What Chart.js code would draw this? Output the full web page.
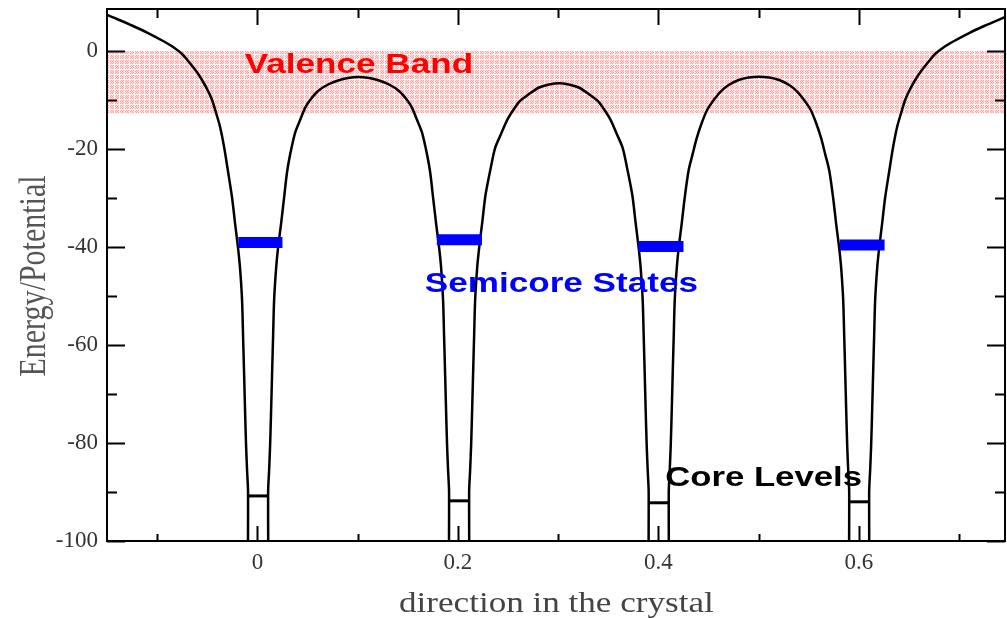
<!DOCTYPE html>
<html>
<head>
<meta charset="utf-8">
<script src="https://cdn.jsdelivr.net/npm/chart.js@4/dist/chart.umd.min.js"></script>
<style>
  html, body { margin: 0; padding: 0; background: #fff; }
  #wrap { width: 1007px; height: 618px; position: relative; }
</style>
</head>
<body>
<div id="wrap"><canvas id="potential"></canvas></div>
<script>
// ---------------- data ----------------

// potential curve (x = direction in the crystal, y = energy), left to right
// (the well bottoms run off the bottom of the plot)
const potX = [
  // outer slope and well at 0
  -0.150, -0.1390, -0.1240, -0.1090, -0.0941, -0.0841, -0.0751, -0.0691, -0.0611, -0.0552, -0.0492, -0.0452, -0.0412, -0.0372,
  -0.0332, -0.0292, -0.0252, -0.0222, -0.0193, -0.0173, -0.0153, -0.0143, -0.0133, -0.0123, -0.0113, -0.0103, -0.0093, -0.0090,
  0.0104, 0.0107, 0.0117, 0.0127, 0.0137, 0.0147, 0.0157, 0.0167, 0.0187, 0.0206, 0.0236, 0.0266, 0.0296, 0.0326,
  0.0376, 0.0426, 0.0476, 0.0526, 0.0605, 0.0705, 0.0805, 0.0905, 0.1004,
  // well at 0.2
  0.1114, 0.1214, 0.1314, 0.1413, 0.1493, 0.1543, 0.1593, 0.1643, 0.1693, 0.1723, 0.1753, 0.1783, 0.1813, 0.1833,
  0.1852, 0.1862, 0.1872, 0.1882, 0.1892, 0.1902, 0.1912, 0.1915,
  0.2109, 0.2112, 0.2122, 0.2132, 0.2142, 0.2152, 0.2162, 0.2172, 0.2192, 0.2212, 0.2241, 0.2271, 0.2291, 0.2331,
  0.2371, 0.2431, 0.2491, 0.2561, 0.2620, 0.2710, 0.2810, 0.2910, 0.3010,
  // well at 0.4
  0.3105, 0.3205, 0.3305, 0.3395, 0.3454, 0.3524, 0.3584, 0.3644, 0.3684, 0.3724, 0.3744, 0.3774, 0.3803, 0.3823,
  0.3843, 0.3853, 0.3863, 0.3873, 0.3883, 0.3893, 0.3903, 0.3906,
  0.4100, 0.4103, 0.4113, 0.4123, 0.4133, 0.4143, 0.4153, 0.4163, 0.4183, 0.4202, 0.4232, 0.4262, 0.4302, 0.4342,
  0.4382, 0.4432, 0.4487, 0.4552, 0.4621, 0.4701, 0.4801, 0.4901, 0.5001,
  // well at 0.6 and outer slope
  0.5104, 0.5204, 0.5304, 0.5384, 0.5453, 0.5518, 0.5573, 0.5623, 0.5663, 0.5703, 0.5743, 0.5773, 0.5803, 0.5823,
  0.5843, 0.5853, 0.5863, 0.5873, 0.5883, 0.5893, 0.5903, 0.5905,
  0.6099, 0.6102, 0.6112, 0.6122, 0.6132, 0.6142, 0.6152, 0.6162, 0.6182, 0.6202, 0.6231, 0.6261, 0.6301, 0.6341,
  0.6381, 0.6421, 0.6461, 0.6501, 0.6561, 0.6621, 0.6700, 0.6760, 0.6850, 0.6950, 0.7099, 0.7249, 0.7459
];
const potY = [
  7.35, 6.43, 5.10, 3.67, 2.04, 0.82, -0.61, -2.04, -4.08, -5.92, -8.16, -10.0, -12.65, -15.5,
  -19.6, -24.7, -30.0, -35.3, -40.2, -44.3, -50.8, -58.0, -65.5, -73.3, -80.4, -85.5, -90.2, -200,
  -200, -90.2, -85.5, -80.4, -73.3, -65.5, -58.0, -50.8, -44.3, -40.2, -35.3, -30.0, -24.7, -21.2,
  -16.7, -14.1, -11.6, -10.0, -8.16, -6.84, -6.02, -5.51, -5.31,
  -5.51, -6.02, -6.84, -8.16, -10.0, -11.6, -14.1, -16.7, -21.2, -24.7, -30.0, -35.3, -40.2, -44.3,
  -50.8, -58.0, -65.5, -73.3, -80.4, -85.5, -90.2, -200,
  -200, -90.2, -85.5, -80.4, -73.3, -65.5, -58.0, -50.8, -44.3, -40.2, -35.3, -30.0, -27.6, -23.5,
  -19.8, -16.9, -14.1, -11.8, -10.2, -8.78, -7.45, -6.84, -6.59,
  -6.84, -7.45, -8.78, -10.2, -11.8, -14.1, -16.9, -19.8, -23.5, -27.6, -30.0, -35.3, -40.2, -44.3,
  -50.8, -58.0, -65.5, -73.3, -80.4, -85.5, -90.2, -200,
  -200, -90.2, -85.5, -80.4, -73.3, -65.5, -58.0, -50.8, -44.3, -40.2, -35.3, -30.0, -24.3, -21.0,
  -17.8, -14.7, -12.0, -10.0, -8.27, -6.94, -5.92, -5.41, -5.24,
  -5.41, -5.92, -6.94, -8.27, -10.0, -12.0, -14.7, -17.8, -21.0, -24.3, -30.0, -35.3, -40.2, -44.3,
  -50.8, -58.0, -65.5, -73.3, -80.4, -85.5, -90.2, -200,
  -200, -90.2, -85.5, -80.4, -73.3, -65.5, -58.0, -50.8, -44.3, -40.2, -35.3, -30.0, -24.7, -19.6,
  -15.5, -12.65, -10.0, -8.16, -5.92, -4.08, -2.04, -0.61, 0.82, 2.04, 3.67, 5.10, 6.94
];

// semicore states (blue bars)
const semiLeft   = [-0.019, 0.179, 0.380, 0.581];
const semiRight  = [0.025, 0.224, 0.425, 0.6256];
const semiEnergy = [-39.1, -38.5, -39.9, -39.6];

// core levels (short black bars at the well bottoms)
const coreLeft   = [-0.0093, 0.1912, 0.3903, 0.5903];
const coreRight  = [0.0107, 0.2112, 0.4103, 0.6102];
const coreEnergy = [-90.8, -91.8, -92.2, -92.0];

// valence band
const valenceTop = 0;
const valenceBottom = -12.7;

// axes
const xRange = [-0.150, 0.7457];
const yRange = [-100, 8.57];
const xMajorTicks = [0, 0.2, 0.4, 0.6];
const xMinorTicks = [-0.1, 0.1, 0.3, 0.5, 0.7];
const yMajorTicks = [0, -20, -40, -60, -80, -100];
const yMinorTicks = [-10, -30, -50, -70, -90];

// text labels, anchored in data units
const noteText = ['Valence Band', 'Semicore States', 'Core Levels'];
const noteX    = [-0.0125, 0.167, 0.4067];
const noteY    = [-4.5, -49.2, -88.75];
const noteColor = ['#ff0000', '#0000ff', '#000000'];

const xTitle = 'direction in the crystal';
const yTitle = 'Energy/Potential';

// ---------------- datasets ----------------

// dotted pink fill for the valence band
const patCanvas = document.createElement('canvas');
patCanvas.width = 5; patCanvas.height = 5;
const pctx = patCanvas.getContext('2d');
for (let r = 0; r < 5; r++) {
  for (let c = 0; c < 5; c++) {
    if (r === 4 || c === 4) pctx.fillStyle = '#fff4f4';
    else pctx.fillStyle = (r + c) % 2 ? '#ffa4a4' : '#ffdede';
    pctx.fillRect(c, r, 1, 1);
  }
}
const valencePattern = pctx.createPattern(patCanvas, 'repeat');

const datasets = [];

datasets.push({
  label: 'potential',
  data: potX.map((x, i) => ({ x, y: potY[i] })),
  showLine: true,
  borderColor: '#000',
  borderWidth: 2.5,
  pointRadius: 0,
  tension: 0.3,
  order: 1,
});

semiLeft.forEach((l, i) => {
  datasets.push({
    label: 'semicore ' + i,
    data: [{ x: l, y: semiEnergy[i] }, { x: semiRight[i], y: semiEnergy[i] }],
    showLine: true,
    borderColor: '#0000ff',
    borderWidth: 11,
    borderCapStyle: 'butt',
    pointRadius: 0,
    order: 0,
  });
});

coreLeft.forEach((l, i) => {
  datasets.push({
    label: 'core ' + i,
    data: [{ x: l, y: coreEnergy[i] }, { x: coreRight[i], y: coreEnergy[i] }],
    showLine: true,
    borderColor: '#000',
    borderWidth: 3,
    borderCapStyle: 'butt',
    pointRadius: 0,
    order: 0,
  });
});

datasets.push({
  label: 'valence band',
  data: [{ x: xRange[0], y: valenceTop }, { x: xRange[1], y: valenceTop }],
  showLine: true,
  borderWidth: 0,
  borderColor: 'rgba(0,0,0,0)',
  pointRadius: 0,
  fill: { value: valenceBottom },
  backgroundColor: valencePattern,
  order: 5,
});

// ---------------- plugins ----------------

function stretchText(ctx, text, x, y, font, color, sx, rotate) {
  ctx.save();
  ctx.translate(x, y);
  if (rotate) {
    ctx.rotate(-Math.PI / 2);
    ctx.scale(1, sx);
  } else {
    ctx.scale(sx, 1);
  }
  ctx.font = font;
  ctx.fillStyle = color;
  ctx.textBaseline = 'alphabetic';
  ctx.textAlign = rotate ? 'center' : 'left';
  ctx.fillText(text, 0, 0);
  ctx.restore();
}

const frameTicks = {
  id: 'frameTicks',
  afterDatasetsDraw(chart) {
    const { ctx, chartArea: { left, right, top, bottom }, scales: { x, y } } = chart;
    ctx.save();
    ctx.strokeStyle = '#000';
    ctx.lineWidth = 2;
    ctx.strokeRect(left, top, right - left, bottom - top);
    ctx.beginPath();
    const xt = (vals, lb, lt) => vals.forEach(v => {
      const px = Math.round(x.getPixelForValue(v)) + 0.5;
      ctx.moveTo(px, bottom); ctx.lineTo(px, bottom - lb);
      ctx.moveTo(px, top); ctx.lineTo(px, top + lt);
    });
    const yt = (vals, len) => vals.forEach(v => {
      const py = Math.round(y.getPixelForValue(v)) + 0.5;
      ctx.moveTo(left, py); ctx.lineTo(left + len, py);
      ctx.moveTo(right, py); ctx.lineTo(right - len, py);
    });
    xt(xMajorTicks, 15, 16);
    xt(xMinorTicks, 7, 9);
    yt(yMajorTicks, 18);
    yt(yMinorTicks, 10);
    ctx.stroke();
    ctx.restore();

    // annotations
    noteText.forEach((t, i) => {
      const big = i === 2;
      stretchText(ctx, t, x.getPixelForValue(noteX[i]), y.getPixelForValue(noteY[i]),
        'bold ' + (big ? 28 : 27) + 'px "Liberation Sans", Arial, sans-serif', noteColor[i], big ? 1.24 : 1.3, false);
    });

    // axis titles
    stretchText(ctx, xTitle, (left + right) / 2 - 157, 612, '29px "Liberation Serif", serif', '#444', 1.21, false);
    stretchText(ctx, yTitle, 45, (top + bottom) / 2 + 1, '30px "Liberation Serif", serif', '#555', 1.25, true);
  }
};

// ---------------- chart ----------------

new Chart(document.getElementById('potential'), {
  type: 'scatter',
  data: { datasets },
  options: {
    responsive: true,
    maintainAspectRatio: false,
    animation: false,
    layout: { padding: { top: 9, right: 2, left: 0, bottom: 0 } },
    plugins: { legend: { display: false }, tooltip: { enabled: false } },
    scales: {
      x: {
        type: 'linear',
        min: xRange[0],
        max: xRange[1],
        afterFit(s) { s.height = 77; s.paddingLeft = 0; s.paddingRight = 0; },
        afterBuildTicks(s) { s.ticks = xMajorTicks.map(v => ({ value: v })); },
        grid: { display: false, drawTicks: false },
        border: { display: false },
        ticks: {
          padding: 8,
          color: '#333',
          font: { family: '"Liberation Serif", serif', size: 23 },
          callback: v => (v === 0 ? '0' : String(+v.toFixed(1))),
        },
      },
      y: {
        type: 'linear',
        min: yRange[0],
        max: yRange[1],
        afterFit(s) { s.width = 107; s.paddingTop = 0; s.paddingBottom = 0; },
        afterBuildTicks(s) { s.ticks = yMajorTicks.map(v => ({ value: v })); },
        grid: { display: false, drawTicks: false },
        border: { display: false },
        ticks: {
          padding: 9,
          color: '#333',
          font: { family: '"Liberation Serif", serif', size: 23 },
          callback: v => String(v),
        },
      },
    },
  },
  plugins: [frameTicks],
});
</script>
</body>
</html>
